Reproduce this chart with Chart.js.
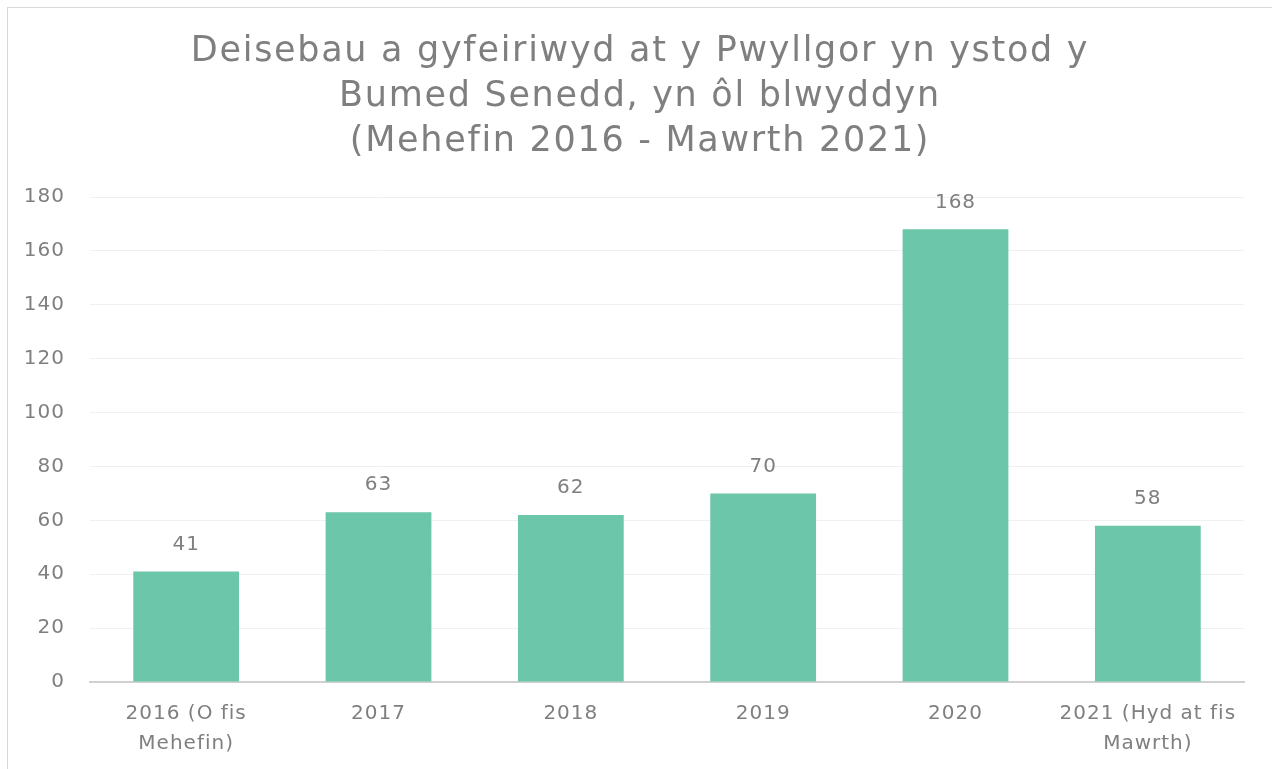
<!DOCTYPE html>
<html>
<head>
<meta charset="utf-8">
<script src="https://cdn.jsdelivr.net/npm/chart.js@4/dist/chart.umd.min.js"></script>
<style>
  html, body { margin: 0; padding: 0; background: #fff; }
  #wrap { position: relative; width: 1272px; height: 769px; overflow: hidden; }
  #frame { position: absolute; left: 7px; top: 7px; width: 1300px; height: 800px; border: 1px solid #d9d9d9; box-sizing: border-box; }
  canvas { position: absolute; left: 0; top: 0; }
</style>
</head>
<body>
<div id="wrap">
  <div id="frame"></div>
  <canvas id="deisebauChart" width="1272" height="769"></canvas>
</div>
<script>
// Blynyddoedd (categorïau) a nifer y deisebau
const blynyddoedd = [
    ['2016 (O fis', 'Mehefin)'],
    '2017',
    '2018',
    '2019',
    '2020',
    ['2021 (Hyd at fis', 'Mawrth)']
];
const deisebau = [41, 63, 62, 70, 168, 58];
const yTicks = [0, 20, 40, 60, 80, 100, 120, 140, 160, 180];

const teitl = [
    'Deisebau a gyfeiriwyd at y Pwyllgor yn ystod y',
    'Bumed Senedd, yn ôl blwyddyn',
    '(Mehefin 2016 - Mawrth 2021)'
];

const greyText = '#7f7f7f';
const fontFamily = '"DejaVu Sans", sans-serif';

// bylchau rhwng llythrennau, i ddynwared ffont llydan y gwreiddiol
const letterSpacing = {
    id: 'letterSpacing',
    beforeDraw(chart) {
        chart.ctx.letterSpacing = '1px';
    }
};

// teitl wedi'i ganoli ar y ffrâm gyfan
const centredTitle = {
    id: 'centredTitle',
    afterDraw(chart) {
        const ctx = chart.ctx;
        ctx.save();
        ctx.letterSpacing = '1.7px';
        ctx.font = '35px ' + fontFamily;
        ctx.fillStyle = greyText;
        ctx.textAlign = 'center';
        ctx.textBaseline = 'middle';
        teitl.forEach((line, i) => {
            ctx.fillText(line, 640, 52 + i * 45);
        });
        ctx.restore();
    }
};

// labeli gwerth uwchben pob bar
const valueLabels = {
    id: 'valueLabels',
    afterDatasetsDraw(chart) {
        const ctx = chart.ctx;
        const meta = chart.getDatasetMeta(0);
        ctx.save();
        ctx.font = '20px ' + fontFamily;
        ctx.fillStyle = greyText;
        ctx.textAlign = 'center';
        ctx.textBaseline = 'middle';
        meta.data.forEach((bar, i) => {
            ctx.fillText(String(chart.data.datasets[0].data[i]), bar.x, bar.y - 27);
        });
        ctx.restore();
    }
};

new Chart(document.getElementById('deisebauChart').getContext('2d'), {
    type: 'bar',
    data: {
        labels: blynyddoedd,
        datasets: [{
            label: 'Deisebau',
            data: deisebau,
            backgroundColor: '#6cc6a9',
            borderWidth: 0,
            categoryPercentage: 1,
            barPercentage: 0.55
        }]
    },
    options: {
        responsive: false,
        animation: false,
        layout: { padding: { left: 20, right: 28, top: 197, bottom: 0 } },
        plugins: {
            legend: { display: false },
            tooltip: { enabled: false },
            title: { display: false }
        },
        scales: {
            y: {
                min: 0,
                max: 180,
                afterBuildTicks: (axis) => { axis.ticks = yTicks.map(v => ({ value: v })); },
                afterFit: (axis) => { axis.width = 70; },
                border: { display: false },
                grid: { color: '#f0f0f0', lineWidth: 1, drawTicks: false },
                ticks: { color: greyText, padding: 25, font: { family: fontFamily, size: 20 } }
            },
            x: {
                afterFit: (axis) => { axis.height = 87; },
                border: { display: true, color: '#d0d0d0', width: 2 },
                grid: { display: false, drawTicks: false },
                ticks: { color: greyText, padding: 17, maxRotation: 0, font: { family: fontFamily, size: 20, lineHeight: 1.5 } }
            }
        }
    },
    plugins: [letterSpacing, valueLabels, centredTitle]
});
</script>
</body>
</html>
